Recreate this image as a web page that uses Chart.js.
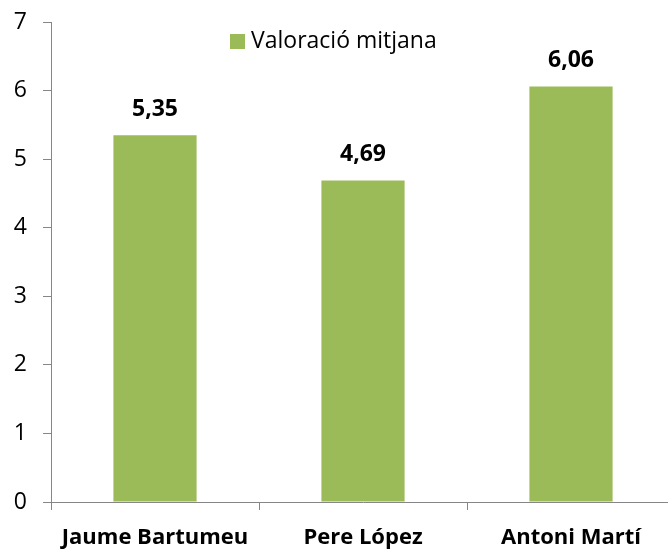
<!DOCTYPE html>
<html>
<head>
<meta charset="utf-8">
<script src="https://cdn.jsdelivr.net/npm/chart.js@4/dist/chart.umd.min.js"></script>
<style>
html,body{margin:0;padding:0;background:#fff;overflow:hidden}
#wrap{width:675px;height:556px;position:relative}
</style>
</head>
<body>
<div id="wrap"><canvas id="c"></canvas></div>
<script>
// data
const categories=['Jaume Bartumeu','Pere López','Antoni Martí'];
const values=[5.35,4.69,6.06];
const seriesName='Valoració mitjana';
const yTicks=[0,1,2,3,4,5,6,7];

const GREEN='#9BBB59', AXIS='#868686', FONT='"Open Sans", sans-serif';

// bold value labels above each bar + legend drawn at top middle
const overlay={
  id:'overlay',
  afterDatasetsDraw(chart){
    const ctx=chart.ctx, meta=chart.getDatasetMeta(0);
    ctx.save();
    ctx.font='bold 23px '+FONT;
    ctx.fillStyle='#000';
    ctx.textAlign='center';ctx.textBaseline='middle';
    meta.data.forEach((bar,i)=>{
      ctx.fillText(values[i].toFixed(2).replace('.',','),bar.x,bar.y-26);
    });
    // legend
    ctx.font='23px '+FONT;
    ctx.textAlign='left';
    ctx.fillStyle=GREEN;
    ctx.fillRect(230,34,15,15);
    ctx.fillStyle='#000';
    ctx.fillText(seriesName,251,41);
    ctx.restore();
  }
};

new Chart(document.getElementById('c'),{
  type:'bar',
  data:{labels:categories,datasets:[{
    label:seriesName,data:values,backgroundColor:GREEN,borderWidth:0,
    barPercentage:0.4,categoryPercentage:1
  }]},
  options:{
    responsive:true,maintainAspectRatio:false,animation:false,
    layout:{padding:{top:22,right:0,left:0,bottom:0}},
    plugins:{legend:{display:false},tooltip:{enabled:false}},
    scales:{
      x:{
        afterFit(s){s.height=54},
        grid:{display:true,drawOnChartArea:false,offset:true,color:AXIS,tickLength:8},
        border:{display:true,color:AXIS,width:1},
        ticks:{color:'#000',padding:15,font:{size:22,weight:'bold',family:FONT},maxRotation:0,autoSkip:false}
      },
      y:{
        min:0,max:7,
        afterFit(s){s.width=51},
        afterBuildTicks(s){s.ticks=yTicks.map(v=>({value:v}))},
        grid:{display:true,drawOnChartArea:false,color:AXIS,tickLength:8},
        border:{display:true,color:AXIS,width:1},
        ticks:{color:'#000',padding:16,font:{size:23,family:FONT,lineHeight:0.5}}
      }
    }
  },
  plugins:[overlay]
});
</script>
</body>
</html>
